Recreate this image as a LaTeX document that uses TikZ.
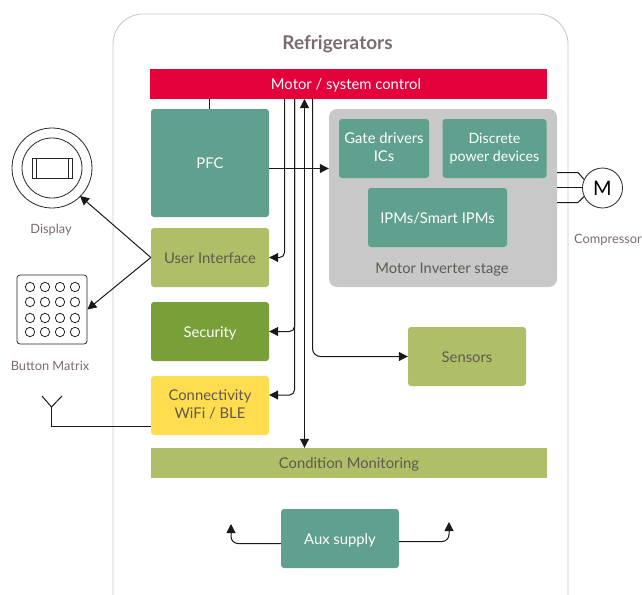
\documentclass[tikz,border=0pt]{standalone}
\usepackage{fontspec}
\setmainfont{Lato}
\usetikzlibrary{arrows.meta}

\definecolor{control_red}{HTML}{E4003A}
\definecolor{teal_box}{HTML}{5FA08F}
\definecolor{olive_box}{HTML}{AFBF68}
\definecolor{green_box}{HTML}{789F38}
\definecolor{yellow_box}{HTML}{FFDD4F}
\definecolor{stage_gray}{HTML}{C8C8C8}
\definecolor{frame_gray}{HTML}{C9C9C9}
\definecolor{label_gray}{HTML}{7B6B70}
\definecolor{dark_text}{HTML}{60594F}

\tikzset{
    block/.style={rounded corners=3, align=center, inner sep=0pt, font=\fontsize{14.8}{18}\selectfont, execute at begin node=\rule[-3pt]{0pt}{17pt}},
    teal/.style={block, fill=teal_box, text=white},
    olive/.style={block, fill=olive_box, text=dark_text},
    unit/.style={minimum width=118, minimum height=59},
    caption/.style={text=label_gray, inner sep=0pt, font=\fontsize{12.8}{15}\selectfont},
    wire/.style={draw=black!90, line width=1},
    link/.style={wire, -{Triangle[length=9,width=9]}},
    icon/.style={draw=black!85, line width=0.8}
}

\begin{document}
\begin{tikzpicture}[x=1pt, y=-1pt]
    \useasboundingbox (0,0) rectangle (642,594);
    \clip (0,0) rectangle (642,594);

    \draw[frame_gray, line width=0.9, rounded corners=30] (113,14) rectangle (568,640);
    \node[text=label_gray, font=\fontsize{19}{22}\selectfont\bfseries, inner sep=0pt] (title) at (337.5,44) {Refrigerators};

    \node[block, fill=control_red, text=white, rounded corners=0, minimum width=397, minimum height=30] (control) at (348.5,84) {Motor / system control\hspace*{5pt}};
    \node[teal, minimum width=118, minimum height=108] (pfc) at (210,163) {PFC};
    \node[olive, unit] (user_interface) at (210,257.5) {User Interface};
    \node[block, unit, fill=green_box, text=white] (security) at (210,331.5) {Security};
    \node[block, unit, fill=yellow_box, text=dark_text] (connectivity) at (210,405.5) {Connectivity\\WiFi / BLE};
    \node[olive, unit] (sensors) at (467,356.5) {Sensors};
    \node[olive, rounded corners=0, minimum width=396, minimum height=30] (condition) at (349,463) {Condition Monitoring};
    \node[teal, unit] (aux) at (340,538.5) {Aux supply};

    \node[block, fill=stage_gray, rounded corners=8, minimum width=228, minimum height=178] (inverter) at (443,198) {};
    \node[teal, minimum width=90, minimum height=59] (gate_drivers) at (384,148.5) {Gate drivers\\ICs};
    \node[teal, minimum width=104, minimum height=59, font=\fontsize{14.2}{18}\selectfont] (discrete) at (494.5,148.5) {Discrete\\power devices};
    \node[teal, minimum width=139, minimum height=59] (ipm) at (437.5,217.5) {IPMs/Smart IPMs};
    \node[caption, text=dark_text, font=\fontsize{14.7}{17}\selectfont] (inverter_label) at (442,270) {Motor Inverter stage};

    % motor
    \node[icon, circle, fill=white, minimum size=40, inner sep=0pt, font=\fontsize{20}{22}\selectfont] (motor) at (602.5,188) {M};
    \node[caption] (compressor) at (608,240) {Compressor};
    \coordinate (phase_a) at (557,172.5);
    \coordinate (phase_b) at (557,187.5);
    \coordinate (phase_c) at (557,202.5);
    \draw[wire] (phase_a) -- (578,172.5) -- (motor.155);
    \draw[wire] (phase_b) -- (phase_b -| motor.west);
    \draw[wire] (phase_c) -- (578,202.5) -- (motor.205);

    % display
    \node[icon, circle, minimum size=80, inner sep=0pt] (display) at (52,168) {};
    \node[icon, circle, minimum size=60, inner sep=0pt] (display_inner) at (52,168) {};
    \node[icon, minimum width=40, minimum height=20, inner sep=0pt] (display_chip) at (52,168) {};
    \draw[icon] (36,158) -- (36,178);
    \draw[icon] (68,158) -- (68,178);
    \node[caption] (display_label) at (51,229.5) {Display};

    % button matrix
    \node[icon, rounded corners=3, minimum width=70, minimum height=69, inner sep=0pt] (matrix) at (52,309.5) {};
    \foreach \y in {287,302,318,332}
        \foreach \x in {30,45,60,75}
            \draw[icon] (\x,\y) circle (4.7);
    \node[caption] (matrix_label) at (50,366) {Button Matrix};

    % antenna
    \coordinate (antenna) at (51.5,407);
    \draw[wire] (connectivity.west |- 0,426.5) -- (antenna |- 0,426.5) -- (antenna);
    \draw[wire] (42,396) -- (antenna) -- (62,396);

    % busses below the control block
    \coordinate (bus_a) at (284.5,99);
    \coordinate (bus_b) at (294.5,99);
    \coordinate (bus_c) at (304.5,99);
    \coordinate (bus_d) at (312.5,99);
    \coordinate (pfc_up) at (209.5,99);

    \draw[wire] (pfc_up) -- (pfc_up |- pfc.north);
    \draw[link] (pfc.east |- 0,168.5) -- (inverter.west |- 0,168.5);
    \draw[link, rounded corners=5] (bus_a) |- (user_interface.east);
    \draw[link, rounded corners=5] (bus_b) |- (security.east);
    \draw[link, rounded corners=5] (bus_b) |- ([yshift=10.5]connectivity.east);
    \draw[link, {Triangle[length=9,width=9]}-{Triangle[length=9,width=9]}] (bus_c) -- (bus_c |- condition.north);
    \draw[link, rounded corners=8] (bus_d) |- (sensors.west);

    \draw[link] (user_interface.west) -- (80,196);
    \draw[link] (user_interface.west) -- (matrix.east);

    \coordinate (aux_left) at (231,524);
    \coordinate (aux_right) at (449,522);
    \draw[link, rounded corners=7] (aux.west |- 0,543.5) -| (aux_left);
    \draw[link, rounded corners=7] (aux.east |- 0,541.5) -| (aux_right);
\end{tikzpicture}
\end{document}
